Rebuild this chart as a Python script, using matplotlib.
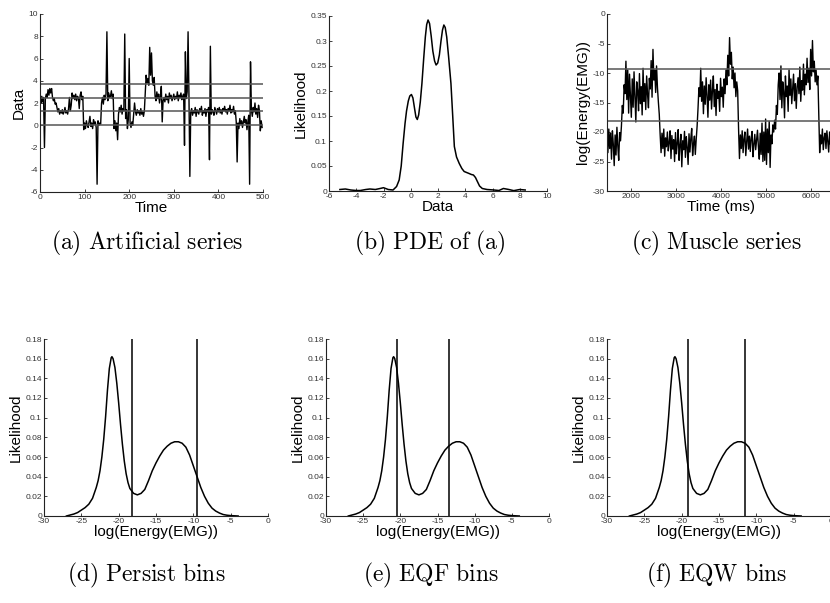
import numpy as np
import matplotlib
matplotlib.use("Agg")
import matplotlib.pyplot as plt
from matplotlib.ticker import FixedLocator, FuncFormatter

plt.rcParams['font.family'] = ['Liberation Sans', 'DejaVu Sans']
plt.rcParams['axes.unicode_minus'] = False
plt.rcParams['mathtext.fontset'] = 'cm'

# ---------------- data ----------------
# (a) artificial series, sampled every 2 time units
art_time = np.arange(0, 500, 2)
art_values = [
    2.3, 2.0, 2.6, 2.1, 2.5, -2.0, 2.4, 2.8, 2.5, 3.2,
    2.7, 3.3, 2.9, 3.3, 2.5, 2.2, 2.4, 1.9, 2.0, 1.6,
    1.2, 1.5, 1.0, 1.3, 1.1, 1.4, 1.0, 1.2, 1.6, 1.1,
    1.3, 1.0, 1.5, 2.5, 1.3, 1.8, 2.9, 2.4, 2.7, 2.3,
    2.8, 2.2, 2.6, 2.5, 1.5, 2.7, 3.0, 2.3, 2.6, -0.4,
    0.2, -0.3, 0.4, 0.0, -0.2, 0.3, 0.8, -0.1, 0.2, -0.3,
    0.5, 0.1, 0.3, -0.2, -5.3, 0.4, 0.0, 0.2, 0.1, 2.0,
    2.5, 1.9, 2.7, 2.3, 2.8, 8.4, 2.2, 2.9, 2.5, 2.6,
    3.1, 2.4, 2.8, -0.3, 0.4, -0.5, 0.2, -1.3, 1.0, 1.6,
    1.2, 1.8, 1.0, 1.5, 1.3, 8.2, 0.6, 1.4, -0.3, 0.5,
    6.0, 0.2, -0.2, 0.3, 0.0, 1.0, 2.0, 1.2, 0.9, 1.4,
    1.1, 1.3, 0.9, 1.5, 1.0, 1.2, 0.8, 1.3, 3.0, 4.5,
    3.8, 4.2, 3.6, 7.0, 4.5, 6.5, 4.0, 3.6, 4.3, 2.6,
    2.2, 3.0, 2.4, 2.8, 2.0, 2.6, 3.5, 0.3, 2.2, 2.5,
    2.1, 2.8, 2.3, 2.6, 2.0, 2.9, 2.4, 2.7, 2.2, 2.5,
    2.8, 2.3, 2.6, 2.4, 3.0, 2.2, 2.7, 2.5, 2.9, 2.3,
    2.6, 2.8, -1.8, 6.6, 2.4, 3.0, 8.4, 2.6, -4.6, 1.2,
    1.5, 0.9, 1.3, 1.1, 1.6, 0.8, 1.4, 1.2, 1.0, 1.5,
    1.2, 1.7, 0.9, 1.3, 1.1, 1.5, 0.8, 1.4, 1.2, 1.6,
    -3.1, 7.1, 1.0, 1.4, 1.2, 0.9, 1.6, 1.3, 1.0, 1.5,
    1.2, 1.6, 1.1, 1.4, 1.0, 1.5, 1.3, 1.7, 1.2, 1.4,
    1.0, 1.5, 1.3, 1.8, 1.1, 1.4, 1.2, 1.7, 1.0, 1.3,
    0.3, -3.3, 0.2, -0.3, 0.6, 0.1, 0.4, -0.2, 0.3, 0.8,
    0.2, 0.5, -0.4, 0.3, 0.9, -5.3, 5.7, 1.4, 0.8, 1.6,
    1.2, 2.0, 1.0, 1.5, 0.7, 1.8, 1.3, -0.5, 0.4, -0.2,
]
art_levels = [3.7, 2.43, 1.28, 0.03]

# (b) estimated density of (a)
pde_x = [-5.2, -4.8, -4.4, -4.0, -3.7, -3.3, -3.0, -2.6, -2.3, -2.0,
         -1.65, -1.3, -1.04, -0.85, -0.7, -0.56, -0.42, -0.31, -0.18, -0.07,
         0.05, 0.16, 0.28, 0.38, 0.48, 0.58, 0.7, 0.82, 0.95, 1.07,
         1.17, 1.27, 1.38, 1.5, 1.62, 1.75, 1.86, 1.98, 2.1, 2.22,
         2.33, 2.43, 2.53, 2.64, 2.78, 2.95, 3.08, 3.2, 3.36, 3.56,
         3.75, 3.92, 4.1, 4.28, 4.45, 4.6, 4.75, 4.89, 5.05, 5.25,
         5.6, 6.1, 6.47, 6.8, 7.2, 7.56, 8.0, 8.4]
pde_y = [0.003, 0.004, 0.002, 0.001, 0.001, 0.003, 0.004, 0.003, 0.0047, 0.0066,
         0.003, 0.002, 0.009, 0.022, 0.05, 0.095, 0.135, 0.16, 0.18, 0.19,
         0.193, 0.186, 0.165, 0.148, 0.143, 0.152, 0.178, 0.215, 0.265, 0.308,
         0.333, 0.342, 0.335, 0.31, 0.28, 0.26, 0.252, 0.256, 0.272, 0.3,
         0.322, 0.332, 0.327, 0.308, 0.268, 0.215, 0.15, 0.089, 0.068, 0.055,
         0.045, 0.039, 0.037, 0.035, 0.033, 0.032, 0.027, 0.019, 0.01, 0.005,
         0.003, 0.002, 0.001, 0.005, 0.003, 0.0007, 0.003, 0.002]

# (c) muscle series, sampled every 20 ms from 1470 ms
emg_time = np.arange(1470, 6531, 20)
emg_values = [
    # rest
    -21.0, -23.5, -19.5, -22.8, -20.2, -24.6, -19.8, -22.1, -25.7, -20.5,
    -23.9, -19.2, -22.4, -24.8, -20.1, -21.5,
    # rise
    -19.0, -15.5, -16.8, -12.0, -13.5,
    # active
    -8.0, -14.5, -9.5, -16.8, -10.2, -13.9, -17.5, -11.0, -15.8, -9.8,
    -14.2, -18.3, -11.5, -13.0, -16.4, -10.1, -15.2, -12.3, -17.1, -9.2,
    -14.8, -11.8, -16.2, -10.5, -13.6, -15.9, -10.9, -12.7, -7.9, -14.1,
    -6.0, -11.2, -9.5, -13.3, -8.8, -12.5, -14.9,
    # fall
    -17.0, -20.5,
    # rest
    -23.5, -20.2, -22.8, -19.5, -24.1, -21.0, -22.5, -20.0, -23.2, -21.8,
    -19.8, -24.5, -20.6, -22.9, -21.3, -25.0, -20.1, -23.7, -21.9, -19.6,
    -24.8, -22.2, -20.4, -25.9, -21.5, -23.0, -19.9, -24.3, -20.8, -22.6,
    -25.5, -20.3, -23.4, -21.1, -19.4, -24.0, -22.0, -20.7, -23.8, -21.2,
    # rise
    -19.0, -16.0, -12.5, -14.0,
    # active
    -9.2, -14.8, -11.5, -16.9, -12.2, -15.3, -10.8, -13.9, -17.5, -12.0,
    -14.6, -11.2, -16.1, -13.0, -10.5, -15.7, -12.8, -17.2, -11.9, -14.3,
    -13.1, -16.5, -10.9, -14.0, -12.4, -15.8, -11.0, -13.5,
    -9.5, -12.0, -7.0, -10.5, -4.0, -8.5, -6.5, -11.0, -9.0, -12.5,
    -10.0, -14.0, -11.5, -13.0,
    # fall
    -19.5, -24.5,
    # rest
    -20.5, -22.8, -19.8, -23.5, -21.2, -20.0, -24.0, -21.6, -19.5, -22.9,
    -20.7, -23.3, -21.0, -19.9, -24.2, -22.1, -20.4, -23.0, -21.4, -19.7,
    -22.5, -24.6, -20.2, -23.8, -18.5, -25.0, -20.0, -24.8, -17.8, -25.5,
    -19.5, -23.5, -18.2, -26.0, -20.5, -22.0, -18.8,
    # rise
    -20.0, -18.0, -19.5, -15.5, -17.0, -12.0,
    # active
    -10.0, -14.5, -8.8, -15.9, -11.5, -13.2, -17.6, -10.5, -14.0, -12.2,
    -16.5, -9.5, -13.8, -11.0, -15.2, -12.6, -10.2, -14.7, -11.8, -16.0,
    -12.4,
    -10.8, -13.5, -9.0, -14.8, -11.3, -12.9, -8.5, -13.7, -10.2, -12.0,
    -7.5, -11.6, -9.2, -12.8, -6.0, -10.5, -4.5, -9.8, -8.0, -11.5,
    -9.5, -12.0, -10.5,
    # fall
    -17.0, -23.5,
    # rest
    -20.5, -22.0, -19.5, -23.0, -21.0, -20.2, -22.8, -19.8, -21.5, -23.4,
    -20.0, -22.1, -21.3, -19.6, -22.5, -20.8, -21.7,
]
emg_levels = [-9.4, -18.2]

# (d)-(f) density of log(Energy(EMG))
dens_x = [-27, -26.5, -26, -25.5, -25, -24.5, -24, -23.5, -23,
          -22.75, -22.5, -22.25, -22, -21.75, -21.5, -21.25, -21.0, -20.9,
          -20.75, -20.5, -20.25, -20.0, -19.75, -19.5, -19.25, -19.0, -18.75, -18.5,
          -18, -17.5, -17, -16.5, -16, -15.5, -15, -14.5, -14, -13.5,
          -13, -12.5, -12, -11.5, -11, -10.5, -10, -9.5, -9, -8.5,
          -8, -7.5, -7, -6.5, -6, -5.5, -5, -4.5, -4]
dens_y = [0.0, 0.001, 0.002, 0.0035, 0.006, 0.0085, 0.012, 0.018, 0.029,
          0.036, 0.046, 0.060, 0.078, 0.101, 0.128, 0.150, 0.161, 0.162,
          0.160, 0.151, 0.135, 0.115, 0.093, 0.073, 0.056, 0.043, 0.034, 0.028,
          0.023, 0.0215, 0.023, 0.027, 0.036, 0.046, 0.054, 0.061, 0.067, 0.071,
          0.074, 0.0755, 0.0755, 0.074, 0.070, 0.062, 0.051, 0.040, 0.029, 0.020,
          0.013, 0.008, 0.005, 0.003, 0.0015, 0.0008, 0.0004, 0.0002, 0.0]
persist_edges = [-18.2, -9.5]
eqf_edges = [-20.4, -13.5]
eqw_edges = [-19.2, -11.5]

captions = ["(a) Artificial series", "(b) PDE of (a)", "(c) Muscle series",
            "(d) Persist bins", "(e) EQF bins", "(f) EQW bins"]

# ---------------- layout ----------------
W, H = 830, 603
fig = plt.figure(figsize=(W / 100, H / 100), dpi=100)


def add_ax(L, R, T, B):
    return fig.add_axes([L / W, 1 - B / H, (R - L) / W, (B - T) / H])


def style(ax, xticks, yticks, xlabel, ylabel, ypad=2):
    for s in ['top', 'right']:
        ax.spines[s].set_visible(False)
    for s in ['left', 'bottom']:
        ax.spines[s].set_linewidth(0.8)
        ax.spines[s].set_color('#222222')
    ax.xaxis.set_major_locator(FixedLocator(xticks))
    ax.yaxis.set_major_locator(FixedLocator(yticks))
    fmt = FuncFormatter(lambda v, p: f'{v:g}')
    ax.xaxis.set_major_formatter(fmt)
    ax.yaxis.set_major_formatter(fmt)
    ax.tick_params(direction='in', length=2.5, width=0.6, labelsize=6,
                   pad=1.5, colors='#222222', labelcolor='#333333')
    ax.set_xlabel(xlabel, fontsize=11, labelpad=0)
    ax.set_ylabel(ylabel, fontsize=11, labelpad=ypad)


# (a)
ax = add_ax(40, 263, 14, 192)
ax.plot(art_time, art_values, color='black', lw=1.0)
for lv in art_levels:
    ax.axhline(lv, color='#555555', lw=1.1)
ax.set_xlim(0, 500)
ax.set_ylim(-6, 10)
style(ax, [0, 100, 200, 300, 400, 500], list(range(-6, 11, 2)), 'Time', 'Data', ypad=2)

# (b)
ax = add_ax(329, 547, 16, 191)
ax.plot(pde_x, pde_y, color='black', lw=1.1)
ax.set_xlim(-6, 10)
ax.set_ylim(0, 0.35)
style(ax, list(range(-6, 11, 2)), [0, 0.05, 0.1, 0.15, 0.2, 0.25, 0.3, 0.35],
      'Data', 'Likelihood', ypad=2)

# (c)
ax = add_ax(607, 835, 14, 191)
ax.plot(emg_time, emg_values, color='black', lw=1.0)
for lv in emg_levels:
    ax.axhline(lv, color='#555555', lw=1.1)
ax.set_xlim(1470, 6530)
ax.set_ylim(-30, 0)
style(ax, [2000, 3000, 4000, 5000, 6000], [-30, -25, -20, -15, -10, -5, 0],
      'Time (ms)', 'log(Energy(EMG))', ypad=2)

# (d)-(f)
for (L, R), edges in zip([(44, 268), (326, 549), (607, 831)],
                         [persist_edges, eqf_edges, eqw_edges]):
    ax = add_ax(L, R, 339, 516)
    ax.plot(dens_x, dens_y, color='black', lw=1.1)
    for e in edges:
        ax.axvline(e, color='black', lw=1.1)
    ax.set_xlim(-30, 0)
    ax.set_ylim(0, 0.18)
    style(ax, [-30, -25, -20, -15, -10, -5, 0],
          [0, 0.02, 0.04, 0.06, 0.08, 0.1, 0.12, 0.14, 0.16, 0.18],
          'log(Energy(EMG))', 'Likelihood', ypad=2)

# captions
cap_pos = [(147, 243), (430, 243), (716, 243), (146, 575), (431, 575), (717, 575)]
for text, (cx, cy) in zip(captions, cap_pos):
    tex = r'$\mathrm{' + text.replace(' ', r'\ ') + '}$'
    fig.text(cx / W, 1 - cy / H, tex, fontsize=17, ha='center', va='center')

fig.savefig('out.png', dpi=100)
